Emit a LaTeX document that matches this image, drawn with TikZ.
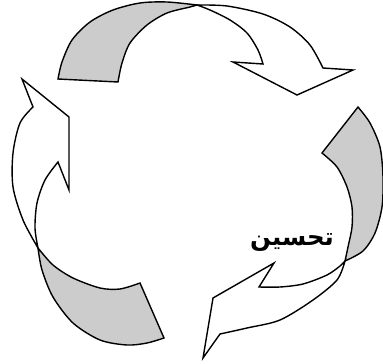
\documentclass[tikz,border=0pt]{standalone}
\usepackage{fontspec}
\newfontfamily\arabicfont[Script=Arabic]{DejaVu Sans}
\TeXXeTstate=1
\definecolor{ribbon}{RGB}{204,204,204}
\tikzset{
  back/.style={draw=black, fill=ribbon, line width=1.4pt, line join=miter},
  front/.style={draw=black, fill=white, line width=1.4pt, line join=miter},
  lbl/.style={font=\arabicfont\bfseries\fontsize{24.5}{28}\selectfont, inner sep=0pt}
}
\begin{document}
\begin{tikzpicture}[x=1pt,y=-1pt]
\useasboundingbox (0,0) rectangle (383,364);
% ---- top arrow ----
\coordinate (tp) at (197,5);
\path[back] (58,79) -- plot[smooth] coordinates {(58,79) (62,62) (72,40) (90,22) (113,10) (140,3) (167,2) (197,5)}
  -- plot[smooth] coordinates {(197,5) (190,7) (167,13) (147,25) (130,43) (122,63) (118,82)} -- cycle;
\path[front] (tp) -- plot[smooth] coordinates {(197,5) (227,6) (263,14) (290,27) (310,45) (323,68)}
  -- (353,70) -- (297,95) -- (233,62) -- (263,64)
  -- plot[smooth] coordinates {(263,64) (258,50) (247,33) (230,20) (210,10) (197,5)} -- cycle;
% ---- right arrow ----
\coordinate (rp) at (345,261);
\path[back] (358,107) -- plot[smooth] coordinates {(358,107) (370,123) (380,147) (383,177) (382,207) (375,233) (363,251) (345,261)}
  -- plot[smooth] coordinates {(345,261) (348,247) (352,227) (352,207) (347,187) (337,167) (322,153)} -- cycle;
\path[front] (rp) -- plot[smooth] coordinates {(345,261) (337,280) (313,300) (280,320) (247,328) (220,334)}
  -- (203,358) -- (213,298) -- (274,263) -- (259,287)
  -- plot[smooth] coordinates {(259,287) (280,287) (303,284) (327,275) (340,266) (345,261)} -- cycle;
% ---- left arrow ----
\coordinate (lp) at (38,248);
\path[back] (140,283) -- plot[smooth] coordinates {(140,283) (120,289) (100,288) (73,278) (53,265) (38,248)}
  -- plot[smooth] coordinates {(38,248) (42,270) (53,297) (73,323) (100,340) (127,345) (147,343) (164,338)} -- cycle;
\path[front] (lp) -- plot[smooth] coordinates {(38,248) (23,220) (13,187) (13,153) (20,123) (33,107)}
  -- (22,79) -- (69,117) -- (69,190) -- (58,162)
  -- plot[smooth] coordinates {(58,162) (45,180) (37,203) (35,228) (38,248)} -- cycle;
% ---- label ----
\node[lbl] (t) at (292,243) {\beginR تحسين\endR};
\end{tikzpicture}
\end{document}
